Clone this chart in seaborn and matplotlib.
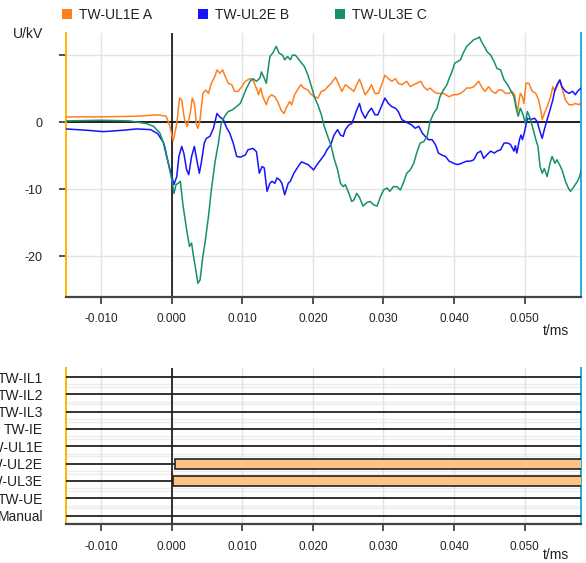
import matplotlib
matplotlib.use("Agg")
import matplotlib.pyplot as plt
from matplotlib.patches import Patch
from matplotlib.ticker import FormatStrFormatter
import pandas as pd
import seaborn as sns

t_a = [-0.0150, -0.0100, -0.0050, -0.0020, -0.0008, -0.0003, 0.0002, 0.0007, 0.0011, 0.0014,
       0.0018, 0.0022, 0.0026, 0.0029, 0.0032, 0.0035, 0.0037, 0.0040, 0.0044, 0.0048,
       0.0052, 0.0056, 0.0061, 0.0064, 0.0068, 0.0072, 0.0075, 0.0080, 0.0085, 0.0089,
       0.0094, 0.0099, 0.0104, 0.0111, 0.0115, 0.0121, 0.0123, 0.0126, 0.0129, 0.0134,
       0.0137, 0.0141, 0.0146, 0.0150, 0.0155, 0.0159, 0.0162, 0.0167, 0.0170, 0.0174,
       0.0178, 0.0183, 0.0187, 0.0193, 0.0198, 0.0202, 0.0207, 0.0212, 0.0217, 0.0221,
       0.0226, 0.0232, 0.0236, 0.0241, 0.0246, 0.0252, 0.0258, 0.0262, 0.0266, 0.0269,
       0.0274, 0.0279, 0.0283, 0.0288, 0.0293, 0.0298, 0.0302, 0.0307, 0.0312, 0.0317,
       0.0321, 0.0326, 0.0333, 0.0338, 0.0343, 0.0347, 0.0353, 0.0357, 0.0362, 0.0366,
       0.0371, 0.0376, 0.0385, 0.0393, 0.0399, 0.0404, 0.0409, 0.0413, 0.0418, 0.0423,
       0.0428, 0.0435, 0.0440, 0.0444, 0.0449, 0.0454, 0.0459, 0.0463, 0.0468, 0.0473,
       0.0478, 0.0482, 0.0486, 0.0488, 0.0490, 0.0492, 0.0494, 0.0497, 0.0499, 0.0502,
       0.0506, 0.0511, 0.0516, 0.0520, 0.0523, 0.0525, 0.0528, 0.0532, 0.0537, 0.0540,
       0.0543, 0.0546, 0.0550, 0.0553, 0.0558, 0.0563, 0.0568, 0.0572, 0.0577, 0.0581]
u_a = [0.8, 0.8, 0.9, 1.1, 0.9, -0.5, -2.8, -0.2, 3.6, 3.3,
       0.4, -0.6, 1.3, 3.6, 2.8, -0.4, -0.9, 0.4, 4.3, 4.8,
       4.3, 5.8, 6.8, 7.8, 7.3, 7.8, 7.0, 5.8, 5.6, 4.6,
       4.6, 5.3, 6.1, 6.5, 6.3, 4.8, 4.1, 5.1, 3.8, 2.6,
       3.6, 4.1, 3.8, 3.1, 1.8, 1.3, 2.1, 3.1, 2.6, 4.1,
       4.8, 5.6, 5.1, 4.8, 4.1, 3.8, 3.6, 4.6, 4.8, 5.3,
       5.8, 6.7, 5.8, 4.6, 5.6, 5.1, 4.6, 5.6, 6.4, 5.6,
       4.1, 4.8, 5.6, 4.3, 4.3, 5.8, 7.0, 6.5, 6.1, 6.5,
       5.8, 5.6, 6.1, 5.3, 5.6, 5.8, 6.1, 5.3, 4.8, 5.1,
       4.6, 4.3, 4.3, 3.8, 4.1, 4.1, 4.3, 4.6, 5.1, 5.1,
       5.3, 6.1, 5.1, 4.6, 5.3, 4.6, 4.3, 4.8, 4.8, 4.3,
       4.3, 4.6, 4.1, 2.6, 1.6, 3.1, 4.3, 3.8, 2.8, 5.8,
       5.8, 4.6, 4.3, 3.3, 1.8, 0.4, 1.3, 2.3, 3.8, 5.3,
       4.6, 5.3, 6.3, 5.1, 3.3, 2.6, 2.6, 2.8, 2.6, 3.1]

t_b = [-0.0150, -0.0120, -0.0097, -0.0070, -0.0050, -0.0030, -0.0020, -0.0012, -0.0008, -0.0004,
       0.0000, 0.0003, 0.0007, 0.0010, 0.0014, 0.0017, 0.0021, 0.0024, 0.0028, 0.0032,
       0.0035, 0.0039, 0.0042, 0.0046, 0.0049, 0.0054, 0.0059, 0.0064, 0.0068, 0.0073,
       0.0078, 0.0082, 0.0087, 0.0092, 0.0097, 0.0104, 0.0108, 0.0115, 0.0120, 0.0124,
       0.0128, 0.0131, 0.0135, 0.0139, 0.0142, 0.0146, 0.0149, 0.0153, 0.0156, 0.0160,
       0.0165, 0.0168, 0.0173, 0.0176, 0.0181, 0.0184, 0.0188, 0.0193, 0.0198, 0.0201,
       0.0206, 0.0211, 0.0216, 0.0220, 0.0225, 0.0230, 0.0235, 0.0239, 0.0243, 0.0246,
       0.0251, 0.0255, 0.0258, 0.0262, 0.0266, 0.0269, 0.0274, 0.0279, 0.0283, 0.0288,
       0.0292, 0.0298, 0.0302, 0.0307, 0.0312, 0.0317, 0.0321, 0.0326, 0.0331, 0.0336,
       0.0340, 0.0345, 0.0350, 0.0355, 0.0359, 0.0364, 0.0369, 0.0374, 0.0378, 0.0383,
       0.0388, 0.0393, 0.0399, 0.0404, 0.0409, 0.0413, 0.0418, 0.0423, 0.0428, 0.0433,
       0.0438, 0.0442, 0.0447, 0.0452, 0.0457, 0.0461, 0.0466, 0.0471, 0.0476, 0.0480,
       0.0485, 0.0487, 0.0489, 0.0493, 0.0495, 0.0497, 0.0500, 0.0504, 0.0509, 0.0514,
       0.0518, 0.0521, 0.0525, 0.0528, 0.0532, 0.0536, 0.0540, 0.0543, 0.0546, 0.0550,
       0.0553, 0.0558, 0.0563, 0.0568, 0.0572, 0.0575, 0.0580]
u_b = [-1.0, -1.2, -1.4, -1.2, -1.0, -1.1, -1.7, -3.0, -4.8, -6.5,
       -8.1, -9.3, -8.1, -5.1, -3.6, -4.6, -7.1, -7.8, -5.1, -3.6,
       -5.4, -7.6, -5.9, -3.1, -2.4, -2.1, -0.9, 1.3, 0.8, 0.4,
       -0.9, -1.6, -3.1, -5.1, -5.2, -4.9, -4.1, -3.9, -4.4, -7.6,
       -6.6, -6.8, -10.3, -9.1, -8.8, -9.1, -8.3, -8.6, -9.1, -10.8,
       -9.1, -8.8, -7.6, -7.1, -6.3, -5.9, -6.1, -6.3, -6.8, -7.1,
       -6.3, -5.6, -4.9, -4.1, -3.4, -1.9, -1.1, -1.9, -2.1, -1.1,
       -0.4, -0.2, 0.6, 1.8, 2.8, 1.6, 0.6, 1.6, 2.1, 1.1,
       1.1, 2.6, 3.6, 2.8, 2.3, 2.1, 1.6, 0.4, 0.1, -0.2,
       -0.4, -0.9, -0.6, -1.6, -2.1, -2.6, -2.6, -3.4, -4.6, -4.9,
       -5.1, -5.8, -6.1, -6.3, -6.2, -6.0, -5.8, -5.8, -5.6, -4.6,
       -4.3, -5.4, -4.8, -4.3, -4.6, -4.3, -4.1, -3.1, -3.1, -3.3,
       -4.3, -3.5, -4.6, -2.5, -1.9, -2.6, -1.4, 0.6, 0.4, 0.6,
       0.1, -1.1, -2.4, -1.1, 0.4, 1.8, 3.3, 4.8, 5.6, 6.3,
       5.3, 4.6, 4.3, 4.6, 4.1, 4.6, 5.1]

t_c = [-0.0150, -0.0100, -0.0060, -0.0036, -0.0026, -0.0017, -0.0010, -0.0005, 0.0000, 0.0003,
       0.0006, 0.0009, 0.0012, 0.0016, 0.0021, 0.0025, 0.0028, 0.0030, 0.0034, 0.0037,
       0.0040, 0.0044, 0.0047, 0.0052, 0.0056, 0.0061, 0.0066, 0.0070, 0.0075, 0.0080,
       0.0085, 0.0089, 0.0097, 0.0101, 0.0106, 0.0111, 0.0115, 0.0120, 0.0125, 0.0127,
       0.0130, 0.0134, 0.0136, 0.0139, 0.0143, 0.0148, 0.0152, 0.0157, 0.0160, 0.0164,
       0.0168, 0.0171, 0.0175, 0.0179, 0.0184, 0.0188, 0.0193, 0.0198, 0.0202, 0.0207,
       0.0212, 0.0216, 0.0221, 0.0226, 0.0230, 0.0235, 0.0239, 0.0243, 0.0246, 0.0251,
       0.0255, 0.0258, 0.0262, 0.0266, 0.0271, 0.0276, 0.0281, 0.0286, 0.0291, 0.0295,
       0.0300, 0.0305, 0.0309, 0.0314, 0.0319, 0.0324, 0.0328, 0.0333, 0.0338, 0.0343,
       0.0347, 0.0352, 0.0357, 0.0362, 0.0366, 0.0371, 0.0376, 0.0380, 0.0385, 0.0390,
       0.0393, 0.0397, 0.0401, 0.0409, 0.0413, 0.0418, 0.0423, 0.0428, 0.0433, 0.0436,
       0.0440, 0.0443, 0.0447, 0.0452, 0.0457, 0.0461, 0.0466, 0.0471, 0.0476, 0.0480,
       0.0485, 0.0488, 0.0491, 0.0494, 0.0498, 0.0501, 0.0504, 0.0508, 0.0511, 0.0516,
       0.0519, 0.0522, 0.0525, 0.0528, 0.0532, 0.0536, 0.0539, 0.0543, 0.0546, 0.0550,
       0.0553, 0.0558, 0.0562, 0.0565, 0.0570, 0.0575, 0.0578, 0.0581]
u_c = [0.2, 0.3, 0.2, -0.2, -0.6, -1.6, -3.6, -6.1, -8.6, -10.6,
       -9.3, -9.1, -8.8, -12.5, -16.0, -18.5, -18.0, -19.5, -22.0, -24.0,
       -23.5, -20.0, -18.0, -14.0, -10.1, -6.1, -3.1, -0.2, 0.9, 1.6,
       1.8, 2.1, 2.8, 3.8, 5.1, 6.1, 6.5, 6.1, 6.6, 7.5,
       6.8, 5.8, 7.5, 9.8, 10.3, 11.3, 10.3, 10.0, 9.3, 9.8,
       9.3, 10.0, 10.0, 9.5, 8.8, 8.3, 7.0, 5.3, 3.8, 2.6,
       1.1, -0.6, -2.1, -3.6, -5.4, -7.1, -9.1, -9.6, -9.3, -10.6,
       -11.8, -11.6, -10.6, -11.2, -12.5, -12.0, -11.8, -12.3, -12.5, -11.3,
       -10.1, -9.8, -10.3, -9.6, -9.6, -10.1, -9.1, -7.6, -7.1, -6.1,
       -4.6, -3.1, -2.9, -2.1, 0.1, 1.3, 2.1, 3.8, 4.8, 5.6,
       6.5, 7.5, 8.8, 9.3, 10.3, 11.3, 11.8, 12.3, 12.5, 12.7,
       11.8, 11.3, 10.5, 10.0, 9.0, 8.0, 7.8, 6.3, 5.6, 4.8,
       3.8, 2.1, 0.9, 2.1, 1.1, -0.2, 1.6, 0.6, -0.6, -2.6,
       -3.6, -6.6, -7.6, -6.9, -8.1, -6.1, -5.1, -6.1, -5.6, -6.4,
       -7.1, -8.8, -9.8, -10.3, -9.6, -8.8, -8.1, -6.9]

trace_names = ["TW-UL1E A", "TW-UL2E B", "TW-UL3E C"]
trace_colors = ["#ff7f1e", "#1414ff", "#16906c"]

# binary channels, top to bottom; two of them picked up right after t=0
channels = ["TW-IL1", "TW-IL2", "TW-IL3", "TW-IE", "TW-UL1E", "TW-UL2E", "TW-UL3E", "TW-UE", "Manual"]
active_channels = ["TW-UL2E", "TW-UL3E"]
active_start = [0.0004, 0.0001]

x_min, x_max = -0.0150, 0.0580
x_ticks = [-0.010, 0.000, 0.010, 0.020, 0.030, 0.040, 0.050]

df = pd.concat([
    pd.DataFrame({"t": t_a, "U": u_a, "trace": trace_names[0]}),
    pd.DataFrame({"t": t_b, "U": u_b, "trace": trace_names[1]}),
    pd.DataFrame({"t": t_c, "U": u_c, "trace": trace_names[2]}),
], ignore_index=True)

sns.set_theme(style="white")
plt.rcParams["font.family"] = ["Liberation Sans", "DejaVu Sans"]
plt.rcParams["axes.unicode_minus"] = False

fig = plt.figure(figsize=(5.86, 5.63), dpi=100)
ax1 = fig.add_axes([66 / 586, 1 - 296.7 / 563, 515 / 586, 263.7 / 563])
ax2 = fig.add_axes([66 / 586, 1 - 524.3 / 563, 515 / 586, 156.3 / 563])

grid_col = "#e3e3e3"
txt_col = "#222222"


def style_axis(ax):
    ax.set_xlim(x_min, x_max)
    ax.set_xticks(x_ticks)
    ax.xaxis.set_major_formatter(FormatStrFormatter("%.3f"))
    ax.grid(axis="x", color=grid_col, lw=1.0)
    ax.set_axisbelow(True)
    ax.spines["top"].set_visible(False)
    ax.spines["left"].set_color("#ffb400")
    ax.spines["left"].set_linewidth(1.4)
    ax.spines["right"].set_color("#22aee6")
    ax.spines["right"].set_linewidth(1.4)
    ax.spines["bottom"].set_color("#444444")
    ax.spines["bottom"].set_linewidth(1.6)
    ax.tick_params(axis="x", bottom=True, length=5, width=1.2, color="#333333",
                   labelsize=8.5, labelcolor=txt_col, pad=7)
    ax.axvline(0, color="#222222", lw=1.3, zorder=2)
    ax.set_xlabel("")
    ax.set_ylabel("")


# --- analog traces ---
sns.lineplot(data=df, x="t", y="U", hue="trace", palette=trace_colors,
             estimator=None, lw=1.1, legend=False, ax=ax1, zorder=3)
style_axis(ax1)
ax1.set_ylim(-26.0, 13.3)
ax1.set_yticks([10, 0, -10, -20])
ax1.set_yticklabels(["", "0", "-10", "-20"])
ax1.grid(axis="y", color=grid_col, lw=1.0)
ax1.axhline(0, color="#111111", lw=1.3, zorder=2)
ax1.tick_params(axis="y", left=True, length=4.7, width=1.2, color="#333333",
                labelsize=9, labelcolor=txt_col, pad=12)

# --- binary channels ---
style_axis(ax2)
ax2.set_ylim(8.5, -0.52)
ax2.set_yticks(range(len(channels)))
ax2.set_yticklabels(channels)
ax2.tick_params(axis="y", left=False, length=0, labelsize=10, labelcolor=txt_col, pad=16.5)
for i in range(len(channels)):
    ax2.axhline(i + 0.42, color="#ececec", lw=1.0, zorder=0)
    ax2.axhline(i + 0.58, color="#ececec", lw=1.0, zorder=0)
for i, ch in enumerate(channels):
    if ch in active_channels:
        start = active_start[active_channels.index(ch)]
        ax2.hlines(i, x_min, start, color="#222222", lw=1.3, zorder=3)
        ax2.barh(i, x_max - start + 0.001, left=start, height=0.58,
                 color="#ffc282", edgecolor="#222222", lw=1.2, zorder=3)
    else:
        ax2.hlines(i, x_min, x_max, color="#222222", lw=1.3, zorder=3)

# --- legend and unit labels ---
handles = [Patch(facecolor=c, edgecolor="none", label=n) for c, n in zip(trace_colors, trace_names)]
fig.legend(handles=handles, loc="center left", bbox_to_anchor=(62 / 586, 1 - 15 / 563),
           ncol=3, frameon=False, fontsize=10, handlelength=0.72, handleheight=0.72,
           handletextpad=0.5, columnspacing=3.3, borderpad=0, borderaxespad=0,
           labelcolor=txt_col)
fig.text(13 / 586, 1 - 34 / 563, "U/kV", fontsize=10, color=txt_col, va="center", ha="left")
fig.text(543 / 586, 1 - 331 / 563, "t/ms", fontsize=10, color=txt_col, va="center", ha="left")
fig.text(543 / 586, 1 - 555 / 563, "t/ms", fontsize=10, color=txt_col, va="center", ha="left")

fig.savefig("out.png", dpi=100)
